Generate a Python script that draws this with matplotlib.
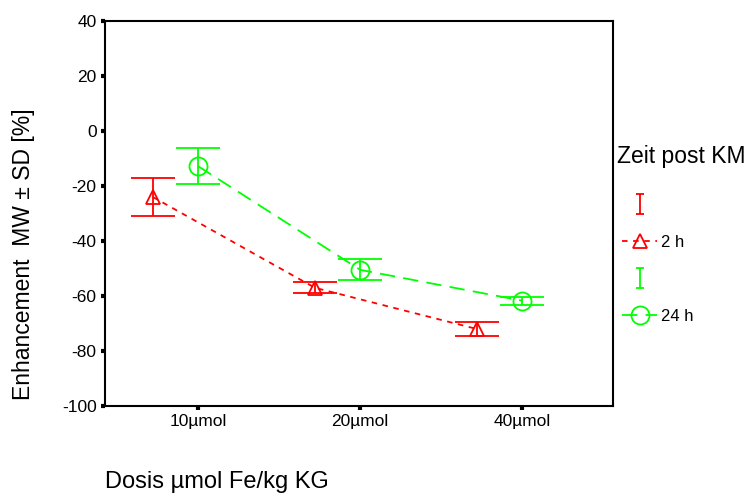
import numpy as np
import matplotlib.pyplot as plt
from matplotlib.path import Path
from matplotlib.lines import Line2D

plt.rcParams['font.family'] = ['Liberation Sans', 'DejaVu Sans']
plt.rcParams['lines.scale_dashes'] = False
plt.rcParams['axes.unicode_minus'] = False

# data
doses = ['10µmol', '20µmol', '40µmol']
mean_2h = [-24, -57, -72]
sd_2h = [7, 2, 2.5]
mean_24h = [-12.8, -50.5, -61.7]
sd_24h = [6.6, 3.8, 1.5]
groups = ['2 h', '24 h']

red = '#ff0000'
green = '#00ff00'

fig = plt.figure(figsize=(7.55, 4.94), dpi=100)
ax = fig.add_axes([105/755, 1 - 406/494, 508/755, 385/494])

x = np.arange(1, len(doses) + 1)
off = -0.28

ax.errorbar(x + off, mean_2h, yerr=sd_2h, fmt='none', ecolor=red,
            elinewidth=1.3, capsize=16, capthick=1.3)
ax.plot(x + off, mean_2h, color=red, lw=1.3, dashes=(4, 4),
        marker='^', ms=10, mfc='none', mec=red, mew=1.3)

ax.errorbar(x, mean_24h, yerr=sd_24h, fmt='none', ecolor=green,
            elinewidth=1.3, capsize=16, capthick=1.3)
ax.plot(x, mean_24h, color=green, lw=1.3, dashes=(11, 6),
        marker='o', ms=13, mfc='none', mec=green, mew=1.3)

ax.set_xlim(0.425, 3.56)
ax.set_ylim(-100, 40)
ax.set_yticks(np.arange(-100, 41, 20))
ax.set_xticks(x)
ax.set_xticklabels(doses)
ax.tick_params(axis='both', length=3, width=3, direction='out',
               labelsize=12.5, pad=3)
for s in ax.spines.values():
    s.set_linewidth(1.5)

ax.set_ylabel('Enhancement  MW ± SD [%]', fontsize=16.5)
ax.yaxis.set_label_coords(-0.138, 0.395)
fig.text(105/755, 1 - 482/494, 'Dosis µmol Fe/kg KG', fontsize=17,
         ha='left', va='center')

# legend: error bar symbol, then line + marker
fig.text(617/755, 1 - 156/494, 'Zeit post KM', fontsize=16.5,
         ha='left', va='center')
ibar = Path([(0, -1), (0, 1), (-0.45, 1), (0.45, 1), (-0.45, -1), (0.45, -1)],
            [Path.MOVETO, Path.LINETO, Path.MOVETO, Path.LINETO, Path.MOVETO, Path.LINETO])
handles = [
    Line2D([], [], ls='none', marker=ibar, ms=14, mec=red, mew=1.3),
    Line2D([], [], color=red, lw=1.3, dashes=(4, 4), marker='^', ms=10,
           mfc='none', mec=red, mew=1.3),
    Line2D([], [], ls='none', marker=ibar, ms=14, mec=green, mew=1.3),
    Line2D([], [], color=green, lw=1.3, dashes=(11, 6), marker='o', ms=13,
           mfc='none', mec=green, mew=1.3),
]
labels = ['', groups[0], '', groups[1]]
leg = fig.legend(handles, labels, loc='upper left',
                 bbox_to_anchor=(619/755, 1 - 195/494), frameon=False,
                 fontsize=12, handlelength=2.1, handletextpad=0.2,
                 labelspacing=1.32, numpoints=1, borderaxespad=0,
                 borderpad=0.2)

fig.savefig('out.png', dpi=100)
